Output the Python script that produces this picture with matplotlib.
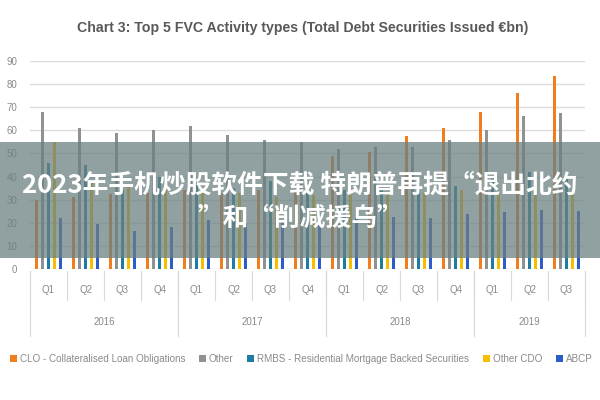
import numpy as np
import matplotlib
matplotlib.use("Agg")
import matplotlib.pyplot as plt
from matplotlib.patches import Rectangle
from matplotlib.transforms import blended_transform_factory

plt.rcParams["font.family"] = ["Liberation Sans", "DejaVu Sans"]

# ---- data (€bn) ----
quarters = ["Q1", "Q2", "Q3", "Q4", "Q1", "Q2", "Q3", "Q4",
            "Q1", "Q2", "Q3", "Q4", "Q1", "Q2", "Q3"]
years = ["2016", "2017", "2018", "2019"]
year_len = [4, 4, 4, 3]

series_names = ["CLO - Collateralised Loan Obligations", "Other",
                "RMBS - Residential Mortgage Backed Securities", "Other CDO", "ABCP"]
clo = [30, 31, 32.5, 33, 34, 33, 34, 34, 49, 50.5, 57.5, 61, 68, 76, 83.5]
other = [68, 61, 59, 60, 62, 58, 56, 55, 52, 53, 53, 56, 60, 66, 67.5]
rmbs = [46, 45, 34, 40, 37, 35, 38, 37, 34, 35, 37, 36, 40, 42, 41]
other_cdo = [55, 37, 36, 35, 33, 33, 31, 32, 32, 32, 33, 34, 33, 33, 33]
abcp = [22, 19.5, 16.5, 18, 21, 20, 21, 20, 22, 22.5, 22, 24, 24.5, 25.5, 25]

colors = ["#F07D1E", "#8F9294", "#1C7DA0", "#F6BE00", "#2B5CC8"]

fig = plt.figure(figsize=(6, 4), dpi=100)
ax = fig.add_axes([0.05, 0.3275, 0.925, 0.52])

x = np.arange(len(quarters))
offsets = np.array([-2, -1, 0, 1, 2]) * 0.16
for vals, off, c, name in zip([clo, other, rmbs, other_cdo, abcp], offsets, colors, series_names):
    ax.bar(x + off, vals, width=0.095, color=c, label=name, zorder=3)

ax.set_xlim(-0.5, len(quarters) - 0.5)
ax.set_ylim(0, 90)
ax.set_yticks(range(0, 91, 10))
ax.tick_params(axis="y", length=0, labelsize=7, labelcolor="#8a8a8a", pad=9)
ax.set_xticks([])
ax.grid(axis="y", color="#dcdcdc", linewidth=1, zorder=0)
for s in ["top", "right", "left", "bottom"]:
    ax.spines[s].set_visible(False)

# two-level category axis
tr = blended_transform_factory(ax.transData, ax.transAxes)
for i, q in enumerate(quarters):
    ax.text(i, -0.10, q, transform=tr, ha="center", va="center", fontsize=7, color="#8a8a8a")
for i in range(len(quarters) + 1):
    ax.plot([i - 0.5, i - 0.5], [-0.01, -0.15], transform=tr, color="#d9d9d9",
            linewidth=0.8, clip_on=False)
start = 0
for yr, n in zip(years, year_len):
    ax.text(start + n / 2 - 0.5, -0.255, yr, transform=tr, ha="center", va="center",
            fontsize=7, color="#8a8a8a")
    for edge in (start, start + n):
        ax.plot([edge - 0.5, edge - 0.5], [-0.01, -0.32], transform=tr, color="#d9d9d9",
                linewidth=0.8, clip_on=False)
    start += n

fig.text(0.505, 0.93, "Chart 3: Top 5 FVC Activity types (Total Debt Securities Issued €bn)",
         ha="center", va="center", fontsize=10.2, color="#595959", fontweight="bold")

fig.legend(loc="center", bbox_to_anchor=(0.502, 0.103), ncol=5, frameon=False, fontsize=7.1,
           handlelength=0.7, handleheight=0.7, handletextpad=0.3, columnspacing=1.4,
           labelcolor="#8a8a8a")

# overlay banner
fig.patches.append(Rectangle((0, 1 - 258 / 400), 1, 116 / 400, transform=fig.transFigure,
                             facecolor="#6c8080", alpha=0.75, edgecolor="none", zorder=10))
fig.text(0.5, 1 - 185 / 400, "2023年手机炒股软件下载 特朗普再提“退出北约",
         ha="center", va="center", fontsize=18.5, color="white", fontweight="bold",
         family=["Noto Sans CJK SC", "DejaVu Sans"], zorder=11)
fig.text(0.5, 1 - 218 / 400, "”和“削减援乌”",
         ha="center", va="center", fontsize=18.5, color="white", fontweight="bold",
         family=["Noto Sans CJK SC", "DejaVu Sans"], zorder=11)

fig.savefig("out.png", dpi=100, facecolor="white")
